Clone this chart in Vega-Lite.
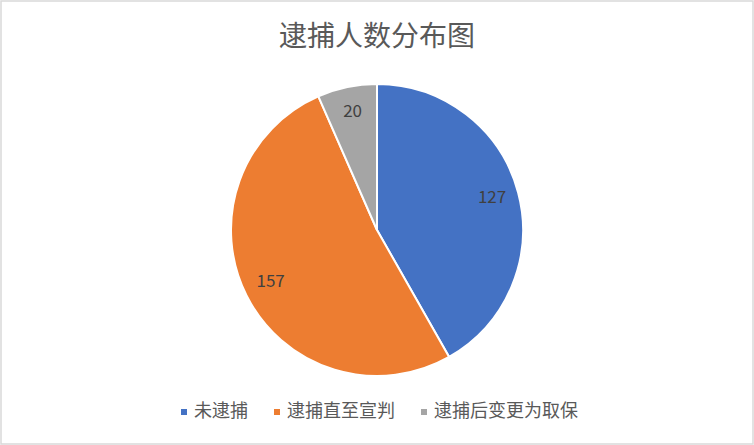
{
  "$schema": "https://vega.github.io/schema/vega-lite/v6.json",
  "description": "Pie chart of arrest outcomes.",
  "width": 752,
  "height": 443,
  "autosize": "none",
  "padding": 1,
  "background": "#ffffff",
  "view": {"stroke": "#D9D9D9", "strokeWidth": 1.5, "fill": "#ffffff"},
  "title": {
    "text": "逮捕人数分布图",
    "orient": "top",
    "anchor": "middle",
    "frame": "group",
    "offset": -51,
    "fontSize": 28,
    "fontWeight": "normal",
    "color": "#595959",
    "font": "Noto Sans CJK SC"
  },
  "data": {
    "values": [
      {"类别": "未逮捕", "人数": 127, "序": 1},
      {"类别": "逮捕直至宣判", "人数": 157, "序": 2},
      {"类别": "逮捕后变更为取保", "人数": 20, "序": 3}
    ]
  },
  "encoding": {
    "theta": {"field": "人数", "type": "quantitative", "stack": true},
    "order": {"field": "序", "type": "quantitative"},
    "color": {
      "field": "类别",
      "type": "nominal",
      "scale": {
        "domain": ["未逮捕", "逮捕直至宣判", "逮捕后变更为取保"],
        "range": ["#4472C4", "#ED7D31", "#A5A5A5"]
      },
      "legend": {
        "title": null,
        "orient": "none",
        "direction": "horizontal",
        "legendX": 174,
        "legendY": 402,
        "symbolType": "square",
        "symbolSize": 36,
        "symbolStrokeWidth": 0,
        "labelFontSize": 18,
        "labelColor": "#595959",
        "labelFont": "Noto Sans CJK SC",
        "labelOffset": 1,
        "columnPadding": 20,
        "padding": 0
      }
    }
  },
  "layer": [
    {
      "mark": {"type": "arc", "outerRadius": 146, "stroke": "#ffffff", "strokeWidth": 2, "yOffset": 7.5}
    },
    {
      "mark": {"type": "text", "radius": 119, "yOffset": 6, "fontSize": 17, "font": "Noto Sans CJK SC", "color": "#404040"},
      "encoding": {
        "text": {"field": "人数", "type": "quantitative"},
        "color": {"value": "#404040"}
      }
    }
  ]
}
